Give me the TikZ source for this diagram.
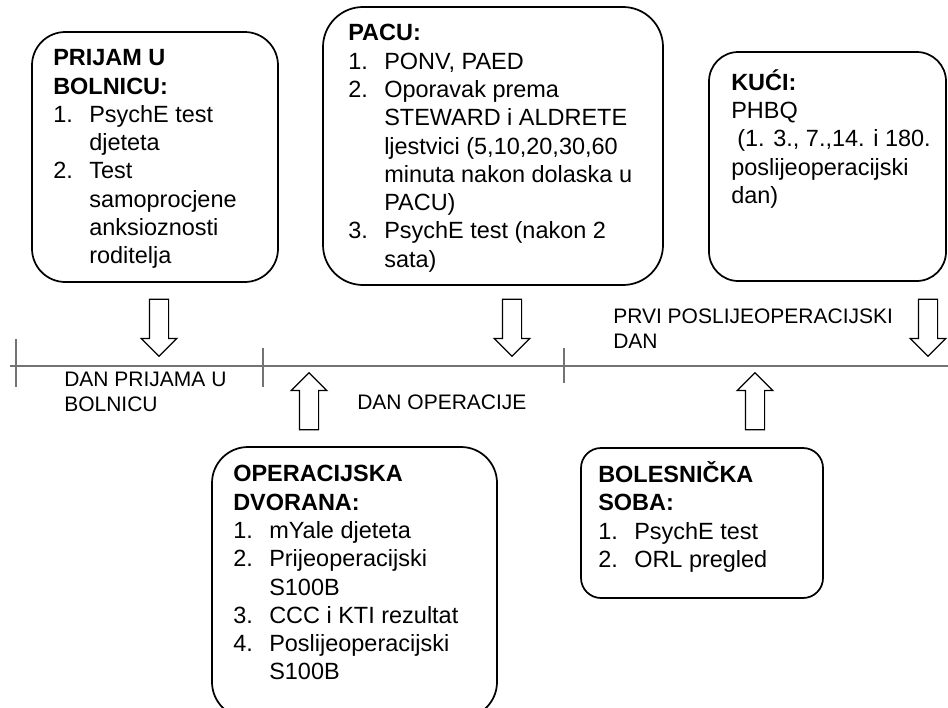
\documentclass[tikz,border=0pt]{standalone}
\usepackage{fontspec}
\setmainfont{Liberation Sans}
\usetikzlibrary{shapes.arrows, fit}
\newcommand\listno[1]{\makebox[27pt][l]{#1}}
\newcommand\listgap{\hspace*{27pt}}
\tikzset{ box/.style = { rectangle
                       , draw
                       , line width   = 1.3pt
                       , inner sep    = 0pt
                       },
          txt/.style = { anchor       = north west
                       , yshift       = 17pt
                       , inner sep    = 0pt
                       , align        = left
                       , font         = \fontsize{17.6pt}{21.2pt}\selectfont
                       , execute at begin node = {\rule{0pt}{17pt}}
                       },
          day/.style = { anchor       = north west
                       , yshift       = 15pt
                       , inner sep    = 0pt
                       , align        = left
                       , font         = \fontsize{15.75pt}{18.75pt}\selectfont
                       , execute at begin node = {\rule{0pt}{15pt}}
                       },
          blk/.style = { single arrow
                       , draw
                       , line width   = 0.9pt
                       , inner sep    = 6.75pt
                       , minimum width  = 25.9pt
                       , minimum height = 42.75pt
                       , single arrow head extend = 6.2pt
                       },
          tick/.style = { draw = black!55
                        , line width = 0.8pt
                        }
          }

\begin{document}
\begin{tikzpicture}
    [x=0.75pt, y=-0.75pt]
    \useasboundingbox (0,0) rectangle (948,707);
    % rounded boxes
    \node[box, rounded corners=25pt, fit={(32,32) (278,282)}]  (prijam)  {};
    \node[box, rounded corners=30pt, fit={(323,7) (663,285)}]  (pacu)    {};
    \node[box, rounded corners=22pt, fit={(709,52) (946,281)}] (kuci)    {};
    \node[box, rounded corners=27pt, fit={(212,447) (497,718)}] (dvorana) {};
    \node[box, rounded corners=15pt, fit={(581,448) (823,598)}] (soba)    {};
    % box texts
    \node[txt] (prijamtxt) at (53,72) {%
        \textbf{PRIJAM U}\\
        \textbf{BOLNICU:}\\
        \listno{1.}PsychE test\\
        \listgap djeteta\\
        \listno{2.}Test\\
        \listgap samoprocjene\\
        \listgap anksioznosti\\
        \listgap roditelja};
    \node[txt] (pacutxt) at (348,47) {%
        \textbf{PACU:}\\
        \listno{1.}PONV, PAED\\
        \listno{2.}Oporavak prema\\
        \listgap STEWARD i ALDRETE\\
        \listgap ljestvici (5,10,20,30,60\\
        \listgap minuta nakon dolaska u\\
        \listgap PACU)\\
        \listno{3.}PsychE test (nakon 2\\
        \listgap sata)};
    \node[txt] (kucitxt) at (731,92) {%
        \textbf{KUĆI:}\\
        PHBQ\\
        \hspace*{4.5pt}(1. 3., 7.,14. i 180.\\
        poslijeoperacijski\\
        dan)};
    \node[txt] (dvoranatxt) at (233,488) {%
        \textbf{OPERACIJSKA}\\
        \textbf{DVORANA:}\\
        \listno{1.}mYale djeteta\\
        \listno{2.}Prijeoperacijski\\
        \listgap S100B\\
        \listno{3.}CCC i KTI rezultat\\
        \listno{4.}Poslijeoperacijski\\
        \listgap S100B};
    \node[txt] (sobatxt) at (598,484) {%
        \textbf{BOLESNIČKA}\\
        \textbf{SOBA:}\\
        \listno{1.}PsychE test\\
        \listno{2.}ORL pregled};
    % time line
    \draw[tick] (10,366) -- (948,366);
    \draw[tick] (16,339)  -- (16,387);
    \draw[tick] (263,348) -- (263,387);
    \draw[tick] (564,348) -- (564,383);
    \node[day] (prijamdan) at (64,392)  {DAN PRIJAMA U\\BOLNICU};
    \node[day] (opdan)     at (357,409) {DAN OPERACIJE};
    \node[day] (prvidan)   at (613,329) {PRVI POSLIJEOPERACIJSKI\\DAN};
    % block arrows
    \node[blk, rotate=-90] (prijamarr)  at (159,323) {};
    \node[blk, rotate=-90] (pacuarr)    at (512,323) {};
    \node[blk, rotate=-90] (kuciarr)    at (928,323) {};
    \node[blk, rotate=90]  (dvoranaarr) at (309,406) {};
    \node[blk, rotate=90]  (sobaarr)    at (755,406) {};
\end{tikzpicture}
\end{document}
